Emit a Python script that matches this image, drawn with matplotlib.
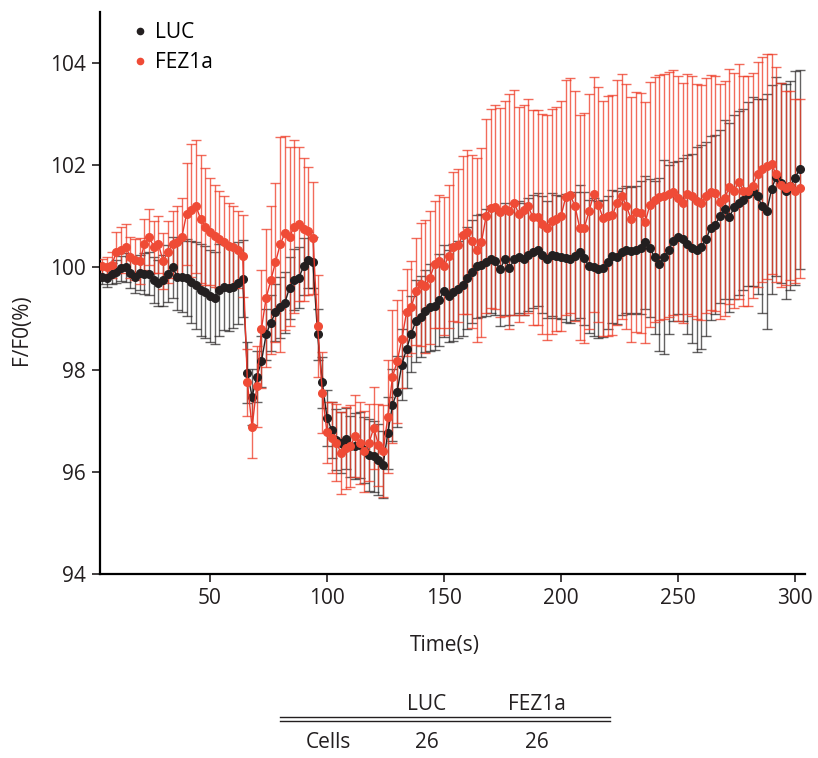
import numpy as np
import matplotlib
matplotlib.use("Agg")
import matplotlib.pyplot as plt
from matplotlib.lines import Line2D

plt.rcParams['font.family'] = ['Open Sans', 'DejaVu Sans']

# time points (s)
time_s = np.arange(4, 303, 2)

luc_mean = (
    [99.82, 99.80, 99.88, 99.92, 99.98, 100.0, 99.9, 99.82, 99.9, 99.88, 99.88, 99.75, 99.7, 99.75, 99.88, 100.0,
     99.82, 99.82, 99.8, 99.72, 99.65, 99.55, 99.52, 99.45, 99.4, 99.55, 99.62, 99.6, 99.62, 99.7, 99.78]
    + [97.94, 97.47, 97.86, 98.16, 98.69, 98.92, 99.12, 99.22, 99.31, 99.6, 99.76, 99.8, 100.02, 100.14, 100.1]
    + [98.69, 97.75, 97.06, 96.82, 96.63, 96.57, 96.65, 96.5, 96.5, 96.53, 96.43, 96.33, 96.3, 96.24, 96.14,
       96.76, 97.31, 97.57, 98.1, 98.4, 98.7, 98.95, 99.04, 99.15, 99.22]
    + [99.24, 99.37, 99.53, 99.45, 99.51, 99.57, 99.65, 99.8, 99.92, 100.02, 100.04, 100.1, 100.16, 100.12, 99.96,
       100.16, 99.98, 100.16, 100.2, 100.16, 100.25]
    + [100.31, 100.35, 100.25, 100.16, 100.25, 100.22, 100.2, 100.18, 100.16, 100.22, 100.31, 100.18, 100.02, 100.0,
       99.96, 99.98, 100.1, 100.22, 100.2, 100.31, 100.35, 100.33, 100.35, 100.39, 100.49, 100.39, 100.2, 100.06,
       100.2, 100.35]
    + [100.51, 100.59, 100.55, 100.45, 100.38, 100.35, 100.4, 100.55, 100.78, 100.84, 101.0, 101.14, 100.98, 101.18,
       101.27, 101.33, 101.43, 101.49, 101.39, 101.2, 101.1, 101.53, 101.78, 101.66, 101.49, 101.6, 101.75, 101.92]
)

luc_err = (
    [0.15, 0.18, 0.2, 0.22, 0.25, 0.28, 0.3, 0.32, 0.35, 0.4, 0.42, 0.45, 0.45, 0.5, 0.55, 0.6, 0.65, 0.7, 0.75,
     0.8, 0.85, 0.9, 0.9, 0.9, 0.9, 0.9, 0.85, 0.85, 0.8, 0.8, 0.75]
    + [0.6, 0.55, 0.5, 0.5, 0.5, 0.55, 0.55, 0.6, 0.6, 0.6, 0.6, 0.6, 0.55, 0.55, 0.5]
    + [0.5, 0.5, 0.55, 0.55, 0.6, 0.6, 0.6, 0.6, 0.65, 0.65, 0.65, 0.7, 0.7, 0.7, 0.65, 0.7, 0.7, 0.7, 0.7, 0.75,
       0.75, 0.8, 0.8, 0.8, 0.85]
    + [0.85, 0.9, 0.9, 0.9, 0.95, 0.95, 1.0, 1.0, 1.0, 1.0, 1.0, 1.05, 1.05, 1.05, 1.1, 1.1, 1.1, 1.1, 1.1, 1.1, 1.1]
    + [1.1, 1.1, 1.15, 1.15, 1.2, 1.2, 1.2, 1.25, 1.25, 1.25, 1.3, 1.3, 1.3, 1.35, 1.35, 1.35, 1.3, 1.3, 1.3, 1.25,
       1.25, 1.25, 1.25, 1.3, 1.3, 1.35, 1.5, 1.7, 1.9, 1.65]
    + [1.55, 1.5, 1.6, 1.75, 1.85, 2.0, 2.0, 1.9, 1.8, 1.75, 1.7, 1.75, 1.85, 1.8, 1.8, 1.77, 1.8, 1.85, 1.9, 2.1,
       2.3, 2.05, 1.95, 1.96, 2.1, 2.05, 2.1, 1.95]
)

fez_mean = (
    [100.02, 100.0, 100.05, 100.3, 100.35, 100.4, 100.2, 100.15, 100.12, 100.45, 100.6, 100.4, 100.45, 100.12, 100.3,
     100.45, 100.5, 100.6, 101.05, 101.12, 101.2, 100.95, 100.8, 100.7, 100.62, 100.55, 100.5, 100.42, 100.4,
     100.35, 100.22]
    + [97.75, 96.87, 97.67, 98.8, 99.4, 99.75, 100.1, 100.45, 100.67, 100.6, 100.8, 100.85, 100.75, 100.72, 100.58]
    + [98.86, 97.55, 96.77, 96.67, 96.57, 96.37, 96.47, 96.5, 96.7, 96.57, 96.4, 96.57, 96.86, 96.53, 96.4, 97.08,
       97.86, 98.16, 98.6, 99.12, 99.22, 99.53, 99.67, 99.63, 99.8]
    + [100.06, 100.12, 100.02, 100.22, 100.41, 100.43, 100.63, 100.69, 100.51, 100.35, 100.49, 101.0, 101.16,
       101.18, 101.08, 101.15, 101.1, 101.27, 101.04, 101.12, 101.2]
    + [100.98, 100.98, 100.85, 100.78, 100.9, 100.95, 101.0, 101.37, 101.41, 101.2, 100.78, 100.78, 101.1, 101.43,
       101.23, 100.96, 101.0, 101.02, 101.27, 101.39, 101.2, 100.94, 101.08, 101.06, 100.88, 101.23, 101.33, 101.37,
       101.39, 101.43]
    + [101.47, 101.35, 101.27, 101.43, 101.4, 101.3, 101.27, 101.4, 101.47, 101.45, 101.29, 101.35, 101.58, 101.5,
       101.68, 101.5, 101.49, 101.6, 101.82, 101.92, 101.98, 102.02, 101.82, 101.62, 101.55, 101.6, 101.49, 101.55]
)

fez_err = (
    [0.15, 0.2, 0.25, 0.4, 0.45, 0.45, 0.4, 0.4, 0.45, 0.5, 0.55, 0.5, 0.55, 0.55, 0.6, 0.65, 0.7, 0.75, 1.0, 1.3,
     1.3, 1.25, 1.15, 1.05, 1.0, 0.95, 0.9, 0.85, 0.8, 0.75, 0.8]
    + [0.65, 0.6, 0.8, 1.15, 1.35, 1.45, 1.55, 2.1, 1.9, 1.75, 1.7, 1.5, 1.4, 1.25, 1.1]
    + [1.0, 0.8, 0.6, 0.7, 0.75, 0.8, 0.8, 0.8, 0.8, 0.8, 0.8, 0.75, 0.8, 0.8, 0.9, 1.1, 1.3, 1.2, 0.95, 0.85, 0.9,
       1.05, 1.2, 1.3, 1.3]
    + [1.25, 1.3, 1.35, 1.4, 1.45, 1.5, 1.55, 1.6, 1.7, 1.8, 1.85, 1.9, 1.95, 2.0, 2.05, 2.1, 2.3, 2.2, 2.1, 2.05,
       2.1]
    + [2.1, 2.1, 2.15, 2.2, 2.2, 2.2, 2.25, 2.3, 2.3, 2.25, 2.2, 2.25, 2.3, 2.3, 2.3, 2.3, 2.35, 2.35, 2.4, 2.4,
       2.4, 2.4, 2.35, 2.35, 2.35, 2.4, 2.4, 2.4, 2.4, 2.4]
    + [2.4, 2.4, 2.35, 2.35, 2.35, 2.3, 2.3, 2.3, 2.3, 2.3, 2.3, 2.3, 2.3, 2.3, 2.3, 2.25, 2.25, 2.2, 2.2, 2.2, 2.2,
       2.15, 2.1, 2.0, 1.9, 1.85, 1.8, 1.75]
)

series_names = ["LUC", "FEZ1a"]
cell_counts = ["26", "26"]
x_ticks = [50, 100, 150, 200, 250, 300]
y_ticks = [94, 96, 98, 100, 102, 104]

BLACK = "#231f20"
RED = "#ef4b36"
FS = 15

fig = plt.figure(figsize=(8.18, 7.58), dpi=100)
ax = fig.add_axes([100 / 818, 1 - 574 / 758, 705 / 818, 562 / 758])

ax.errorbar(time_s, luc_mean, yerr=luc_err, fmt='none', ecolor=BLACK, elinewidth=1.0,
            capsize=3.6, capthick=1.0, alpha=0.7, zorder=2)
ax.errorbar(time_s, fez_mean, yerr=fez_err, fmt='none', ecolor="#ee3a24", elinewidth=1.0,
            capsize=3.6, capthick=1.0, alpha=0.75, zorder=3)
ax.plot(time_s, luc_mean, '-o', color=BLACK, ms=5.5, lw=1.0, zorder=4)
ax.plot(time_s, fez_mean, '-', color="#e8382c", lw=1.0, zorder=5)
ax.plot(time_s, fez_mean, 'o', color=RED, ms=5.5, zorder=5)

ax.set_xlim(3, 304.3)
ax.set_ylim(94, 105)
ax.set_xticks(x_ticks)
ax.set_yticks(y_ticks)
for s in ['top', 'right']:
    ax.spines[s].set_visible(False)
ax.spines['left'].set_linewidth(1.6)
ax.spines['bottom'].set_linewidth(1.6)
ax.tick_params(axis='both', length=6, width=1.2, labelsize=FS, colors='#231f20', pad=4)

fig.text(22 / 818, 1 - 330 / 758, "F/F0(%)", rotation=90, ha='center', va='center', fontsize=FS, color='#231f20')
fig.text(445 / 818, 1 - 645 / 758, "Time(s)", ha='center', va='center', fontsize=FS, color='#231f20')

handles = [Line2D([], [], marker='o', ls='none', color=BLACK, ms=4.5),
           Line2D([], [], marker='o', ls='none', color=RED, ms=4.5)]
ax.legend(handles, series_names, loc='upper left', bbox_to_anchor=(35 / 705, 1 - 10 / 562),
          frameon=False, handlelength=0.5, handletextpad=0.45, labelspacing=0.45, fontsize=FS,
          borderaxespad=0, borderpad=0)

# table below
tx = [427 / 818, 537 / 818]
for name, x in zip(series_names, tx):
    fig.text(x, 1 - 705 / 758, name, ha='center', va='center', fontsize=FS, color='#231f20')
fig.text(328 / 818, 1 - 742 / 758, "Cells", ha='center', va='center', fontsize=FS, color='#231f20')
for c, x in zip(cell_counts, tx):
    fig.text(x, 1 - 742 / 758, c, ha='center', va='center', fontsize=FS, color='#231f20')
for yy in (717, 721):
    fig.add_artist(Line2D([280 / 818, 610 / 818], [1 - yy / 758, 1 - yy / 758], color='#231f20', lw=1.0,
                          transform=fig.transFigure))

fig.savefig("out.png", dpi=100)
